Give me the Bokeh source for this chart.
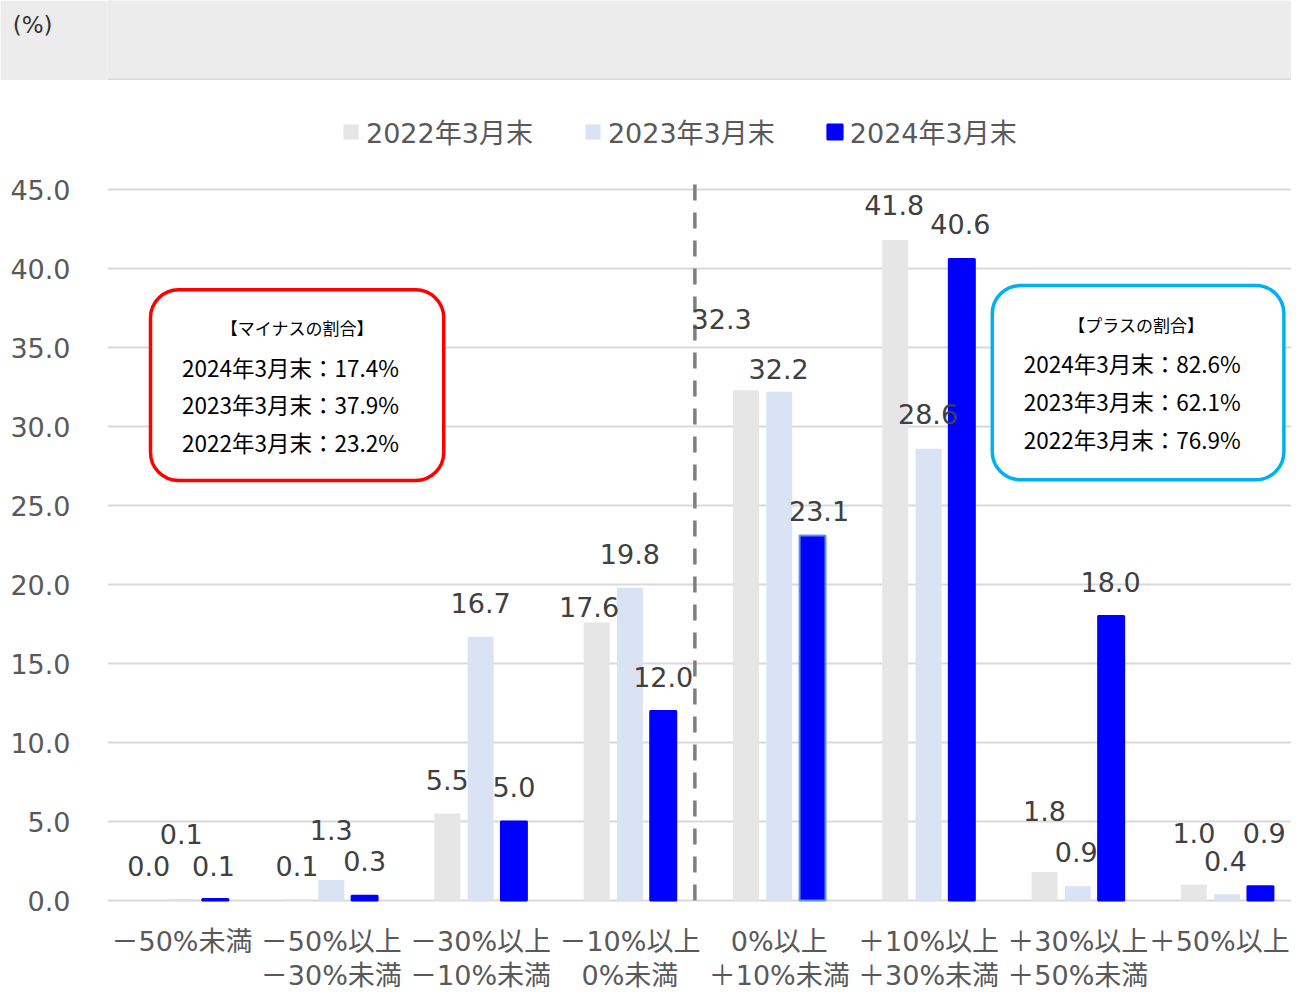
from bokeh.plotting import figure
from bokeh.models import (ColumnDataSource, Range1d, FixedTicker, NumeralTickFormatter,
                          Legend, LegendItem, BoxAnnotation, Label, Span)
from bokeh.layouts import column
from bokeh.core.properties import value
from bokeh.transform import dodge
from bokeh.embed import file_html
from bokeh.resources import INLINE

# ---------------- data ----------------
categories = ["－50%未満", "－50%以上\n－30%未満", "－30%以上\n－10%未満", "－10%以上\n0%未満",
              "0%以上\n＋10%未満", "＋10%以上\n＋30%未満", "＋30%以上\n＋50%未満", "＋50%以上"]
series_names = ["2022年3月末", "2023年3月末", "2024年3月末"]
values_2022 = [0.0, 0.1, 5.5, 17.6, 32.3, 41.8, 1.8, 1.0]
values_2023 = [0.1, 1.3, 16.7, 19.8, 32.2, 28.6, 0.9, 0.4]
values_2024 = [0.1, 0.3, 5.0, 12.0, 23.1, 40.6, 18.0, 0.9]
y_ticks = [0, 5, 10, 15, 20, 25, 30, 35, 40, 45]
unit_label = "(%)"

share_years = ["2024年3月末", "2023年3月末", "2022年3月末"]
minus_share = [17.4, 37.9, 23.2]
plus_share = [82.6, 62.1, 76.9]

# ---------------- styles / label placement (pixels) ----------------
colors = ["#e6e6e6", "#dae3f3", "#0000ff"]
edge_2024 = ["#0000ff", "#0000ff", "#0000ff", "#0000ff", "#5b9bd5", "#0000ff", "#0000ff", "#0000ff"]
dx_2022 = [0, -1, 0, -7.6, -24.3, -1, 0, 0]
dy_2022 = [-34.5, -33.4, -34, -15.2, -71.4, -34.6, -61, -51.7]
dx_2023 = [-0.7, 0, 0, 0, -0.6, -0.5, -1.6, -1.8]
dy_2023 = [-65.4, -49.5, -33.6, -33.5, -22.5, -34.4, -34, -33]
dx_2024 = [-1.8, 0, 0, 0, 6.5, -1.4, -0.6, 3.7]
dy_2024 = [-33, -34.3, -35, -33.7, -25, -34.8, -34.6, -53.3]
cat_dx = [0, 0, 0, 0, 0, 0, 0, -8]

FONT = "DejaVu Sans, Noto Sans CJK JP"
AXIS_COLOR = "#595959"
LABEL_COLOR = "#404040"
LEFT = 107          # width of the y-axis panel (px)
W = 1291            # total width (px)

row1 = [c.split("\n")[0] for c in categories]
row2 = [c.split("\n")[1] if "\n" in c else "" for c in categories]
xs = list(range(len(categories)))

src = ColumnDataSource(dict(
    x=xs, v2022=values_2022, v2023=values_2023, v2024=values_2024,
    t2022=[f"{v:.1f}" for v in values_2022],
    t2023=[f"{v:.1f}" for v in values_2023],
    t2024=[f"{v:.1f}" for v in values_2024],
    dx2022=dx_2022, dy2022=dy_2022, dx2023=dx_2023, dy2023=dy_2023,
    dx2024=dx_2024, dy2024=dy_2024, edge2024=edge_2024,
))
cat_src = ColumnDataSource(dict(x=xs, r1=row1, r2=row2, dx=cat_dx))

# ---------------- top band (unit label) ----------------
top = figure(width=W, height=80, x_range=Range1d(0, 1), y_range=Range1d(0, 80),
             x_axis_location=None, y_axis_location="left", toolbar_location=None,
             output_backend="svg", min_border=0, min_border_left=LEFT, outline_line_color=None,
             background_fill_color="#ececec", border_fill_color="#ececec")
top.grid.visible = False
tax = top.yaxis[0]
tax.ticker = FixedTicker(ticks=[56])
tax.major_label_overrides = {56: unit_label}
tax.axis_line_color = None
tax.major_tick_line_color = None
tax.minor_tick_line_color = None
tax.major_tick_out = 0
tax.major_tick_in = 0
tax.major_label_standoff = 55
tax.major_label_text_font = "DejaVu Sans"
tax.major_label_text_font_size = "23px"
tax.major_label_text_color = "#333333"
top.add_layout(Span(location=1, dimension="width", line_color="#d9d9d9", line_width=2))

# ---------------- main chart ----------------
p = figure(width=W, height=910, x_range=Range1d(-0.499, 7.431), y_range=Range1d(-5.696, 51.9),
           x_axis_location=None, y_axis_location="left", toolbar_location=None,
           output_backend="svg", min_border_left=LEFT, min_border_right=0,
           min_border_top=0, min_border_bottom=0, outline_line_color=None,
           background_fill_color="white", border_fill_color="white")

p.xgrid.visible = False
p.ygrid.ticker = FixedTicker(ticks=y_ticks)
p.ygrid.grid_line_color = "#d9d9d9"
p.ygrid.grid_line_width = 2

ax = p.yaxis[0]
ax.ticker = FixedTicker(ticks=y_ticks)
ax.formatter = NumeralTickFormatter(format="0.0")
ax.axis_line_color = None
ax.major_tick_line_color = None
ax.minor_tick_line_color = None
ax.major_tick_out = 0
ax.major_tick_in = 0
ax.major_label_standoff = 37
ax.major_label_text_font = "DejaVu Sans"
ax.major_label_text_font_size = "27px"
ax.major_label_text_color = AXIS_COLOR

OFF = 0.223
BW = 0.174
r22 = p.vbar(x=dodge("x", -OFF, range=p.x_range), top="v2022", width=BW, bottom=0,
             fill_color=colors[0], line_color=None, source=src)
r23 = p.vbar(x=dodge("x", 0, range=p.x_range), top="v2023", width=BW, bottom=0,
             fill_color=colors[1], line_color=None, source=src)
r24 = p.vbar(x=dodge("x", OFF, range=p.x_range), top="v2024", width=BW, bottom=0,
             fill_color=colors[2], line_color="edge2024", line_width=2, source=src)

# divider between minus and plus ranges
p.segment(x0=[3.435], y0=[0], x1=[3.435], y1=[45.38], line_color="#7f7f7f",
          line_width=3.5, line_dash="16 12")

for off, key in [(-OFF, "2022"), (0, "2023"), (OFF, "2024")]:
    p.text(x=dodge("x", off, range=p.x_range), y="v" + key, text="t" + key,
           x_offset="dx" + key, y_offset="dy" + key, source=src,
           text_font=value("DejaVu Sans"), text_font_size="27px", text_color=LABEL_COLOR,
           text_align="center", text_baseline="middle")

# category labels (two rows)
p.text(x="x", y=-2.6, text="r1", x_offset="dx", source=cat_src, text_font=value(FONT),
       text_font_size="27px", text_color=AXIS_COLOR, text_align="center", text_baseline="middle")
p.text(x="x", y=-4.72, text="r2", source=cat_src, text_font=value(FONT),
       text_font_size="27px", text_color=AXIS_COLOR, text_align="center", text_baseline="middle")

legend = Legend(items=[LegendItem(label=series_names[0], renderers=[r22]),
                       LegendItem(label=series_names[1], renderers=[r23]),
                       LegendItem(label=series_names[2], renderers=[r24])],
                orientation="horizontal", location=(234, 839),
                glyph_width=19, glyph_height=19, label_standoff=6, spacing=50,
                padding=0, margin=0, border_line_color=None, background_fill_alpha=0,
                label_text_font=FONT, label_text_font_size="27px",
                label_text_color=AXIS_COLOR)
p.add_layout(legend)

# share boxes
p.add_layout(BoxAnnotation(left=-0.211, right=1.753, top=38.65, bottom=26.58,
                           fill_color="white", fill_alpha=1, line_color="#ff0000",
                           line_width=3.5, line_alpha=1, border_radius=28))
p.add_layout(BoxAnnotation(left=5.427, right=7.380, top=38.92, bottom=26.63,
                           fill_color="white", fill_alpha=1, line_color="#00b0f0",
                           line_width=3.5, line_alpha=1, border_radius=28))

BOX_FONT = "Noto Sans CJK JP"
p.add_layout(Label(x=0.772, y=36.25, text="【マイナスの割合】", text_font=BOX_FONT,
                   text_font_size="17px", text_color="black", text_align="center",
                   text_baseline="middle"))
p.add_layout(Label(x=6.392, y=36.45, text="【プラスの割合】", text_font=BOX_FONT,
                   text_font_size="17px", text_color="black", text_align="center",
                   text_baseline="middle"))
for yy, name, v in zip([33.74, 31.42, 29.0], share_years, minus_share):
    p.add_layout(Label(x=0.727, y=yy, text=f"{name}：{v:.1f}%", text_font=BOX_FONT,
                       text_font_size="22.5px", text_color="black", text_align="center",
                       text_baseline="middle"))
for yy, name, v in zip([34.04, 31.64, 29.21], share_years, plus_share):
    p.add_layout(Label(x=6.364, y=yy, text=f"{name}：{v:.1f}%", text_font=BOX_FONT,
                       text_font_size="22.5px", text_color="black", text_align="center",
                       text_baseline="middle"))

layout = column(top, p)
open("out.html", "w").write(file_html(layout, INLINE))
